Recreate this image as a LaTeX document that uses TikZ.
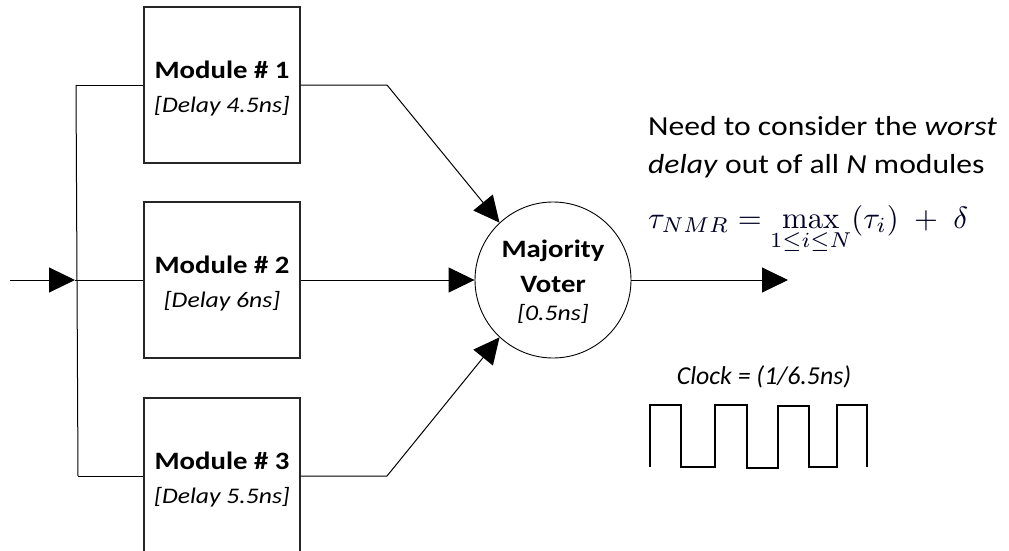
\documentclass[tikz,border=0pt]{standalone}
\usepackage[no-math]{fontspec}
\setmainfont[FakeStretch=1.15]{Carlito}
\newfontfamily\clockfont{Carlito}
\usetikzlibrary{arrows.meta}
\tikzset{
  wire/.style={line width=1pt, draw=black},
  arr/.style={wire, -{Triangle[length=26pt,width=25pt]}},
  modbox/.style={draw=black!85, line width=1.1pt, minimum width=156pt, minimum height=156pt, inner sep=0pt},
  voterc/.style={circle, draw=black, line width=0.9pt, minimum size=156pt, inner sep=0pt},
  boldtxt/.style={anchor=base, inner sep=0pt, font=\fontsize{25}{30}\selectfont\bfseries},
  ittxt/.style={anchor=base, inner sep=0pt, font=\fontsize{22.3}{27}\selectfont\itshape},
  bigtxt/.style={anchor=base west, inner sep=0pt, font=\fontsize{27.5}{33}\selectfont},
}
\begin{document}
\begin{tikzpicture}[x=1pt,y=-1pt]
\clip (0,0) rectangle (1009,551);
\fill[white] (0,0) rectangle (1009,551);

% boxes
\node[modbox] (m1) at (222,85) {};
\node[modbox] (m2) at (222,280) {};
\node[modbox] (m3) at (222,476) {};
\node[boldtxt] (m1a) at (222,78) {Module \# 1};
\node[ittxt] (m1b) at (222,112) {[Delay 4.5ns]};
\node[boldtxt] (m2a) at (222,273) {Module \# 2};
\node[ittxt] (m2b) at (222,307) {[Delay 6ns]};
\node[boldtxt] (m3a) at (222,469) {Module \# 3};
\node[ittxt] (m3b) at (222,503) {[Delay 5.5ns]};

% voter
\node[voterc] (voter) at (553,280) {};
\node[boldtxt] (v1) at (553,257) {Majority};
\node[boldtxt] (v2) at (553,292) {Voter};
\node[ittxt] (v3) at (553,320) {[0.5ns]};

% coordinates
\coordinate (in) at (10,280);
\coordinate (bm) at (75,280);
\coordinate (bt) at (76,85);
\coordinate (bb) at (78,476);
\coordinate (c1) at (387,85);
\coordinate (c3) at (387,476);
\coordinate (out) at (788,280);

% wires
\draw[arr] (in) -- (bm);
\draw[wire] (bm) -- (m2.west);
\draw[wire] (bt) -- (bb);
\draw[wire] (bt) -- (m1.west);
\draw[wire] (bb) -- (m3.west);
\draw[arr] (m1.east) -- (c1) -- (voter.133);
\draw[arr] (m2.east) -- (voter.west);
\draw[arr] (m3.east) -- (c3) -- (voter.-133);
\draw[arr] (voter.east) -- (out);

% text
\node[bigtxt] (t1) at (648,135) {Need to consider the \textit{worst}};
\node[bigtxt] (t2) at (648,173) {\textit{delay} out of all \textit{N} modules};
\node[anchor=base west, inner sep=0pt, text=black!85!blue] (f) at (648,228)
  {\resizebox{320pt}{!}{$\tau_{NMR} = \max\limits_{1\leq i\leq N}(\tau_i) \;+\; \delta$}};

% clock
\node[anchor=base, inner sep=0pt, font=\clockfont\fontsize{25.8}{30}\selectfont\itshape] (clk) at (764,384) {Clock = (1/6.5ns)};
\draw[wire, line width=1.1pt] (650,467) -- (650,405) -- (681,405) -- (681,467) -- (715,467)
  -- (715,405) -- (747,405) -- (747,468) -- (778,468) -- (778,406) -- (809,406)
  -- (809,467) -- (837,467) -- (837,405) -- (867,405) -- (867,467);
\end{tikzpicture}
\end{document}
